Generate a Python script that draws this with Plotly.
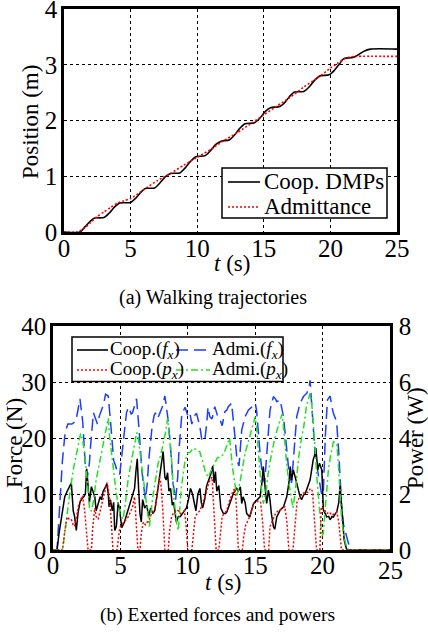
import plotly.graph_objects as go

W, H = 428, 633
SERIF = "Liberation Serif"

# ---------------- (a) walking trajectories ----------------
coop_t = [0, 1.2, 1.6, 2.0, 2.3, 3.0, 3.4, 3.8, 4.2, 5.0, 5.4, 5.8, 6.1, 6.8, 7.2, 7.6,
          8.0, 8.7, 9.1, 9.5, 9.9, 10.6, 11.0, 11.4, 11.8, 12.4, 12.8, 13.2, 13.6, 14.3,
          14.7, 15.1, 15.5, 16.2, 16.6, 17.0, 17.3, 18.0, 18.4, 18.8, 19.2, 19.9, 20.3,
          20.7, 21.0, 21.7, 22.1, 22.5, 23.0, 25.0]
coop_pos = [0, 0.0, 0.1, 0.2, 0.25, 0.26, 0.34, 0.45, 0.52, 0.53, 0.61, 0.72, 0.78, 0.79,
            0.88, 0.99, 1.05, 1.06, 1.15, 1.27, 1.35, 1.37, 1.46, 1.57, 1.63, 1.65, 1.74,
            1.86, 1.94, 1.96, 2.04, 2.16, 2.23, 2.25, 2.33, 2.45, 2.51, 2.52, 2.6, 2.72,
            2.80, 2.82, 2.9, 3.02, 3.11, 3.13, 3.18, 3.24, 3.28, 3.28]

adm_t = [0, 1.0, 1.5, 2.0, 2.5, 3.0, 3.5, 4.0, 4.5, 5.0, 6.0, 7.0, 8.0, 9.0, 10.0, 11.0,
         12.0, 13.0, 14.0, 15.0, 16.0, 17.0, 18.0, 19.0, 20.0, 20.5, 21.0, 21.5, 22.0, 25.0]
adm_pos = [0, 0, 0.06, 0.17, 0.28, 0.36, 0.44, 0.52, 0.56, 0.60, 0.76, 0.92, 1.05, 1.2,
           1.34, 1.48, 1.64, 1.78, 1.94, 2.1, 2.26, 2.42, 2.6, 2.76, 2.94, 3.02, 3.1,
           3.14, 3.15, 3.15]

# ---------------- (b) forces [N] and powers [W] ----------------
coop_force = [(0, 0), (0.3, 0), (0.45, 3), (0.62, 6), (0.87, 9.5), (1.05, 10.5), (1.24, 11.6),
              (1.36, 12), (1.5, 7), (1.6, 6), (1.73, 3.5), (1.85, 6.5), (2.0, 8.5), (2.1, 9),
              (2.28, 9.5), (2.4, 10), (2.5, 14.5), (2.6, 12), (2.7, 8.5), (2.85, 11.3),
              (2.97, 10.5), (3.1, 9.5), (3.2, 7), (3.35, 8.3), (3.5, 9.5), (3.6, 9), (3.72, 10.5),
              (3.84, 11), (4.0, 11.8), (4.1, 10), (4.16, 7.7), (4.26, 9), (4.4, 7), (4.5, 8.5),
              (4.58, 3.5), (4.7, 4.2), (4.83, 8.5), (4.95, 7), (5.1, 4), (5.3, 5), (5.5, 6.5),
              (5.7, 8), (5.9, 9.5), (6.05, 11), (6.15, 14), (6.25, 16.3), (6.35, 11),
              (6.45, 6.5), (6.55, 5), (6.65, 9), (6.8, 7.5), (6.95, 8), (7.1, 6), (7.25, 7.5),
              (7.4, 6.5), (7.55, 7), (7.7, 9.5), (7.85, 12), (7.95, 14), (8.05, 15.5),
              (8.17, 17.6), (8.3, 13), (8.4, 12.5), (8.5, 13.8), (8.6, 10.5), (8.72, 11),
              (8.85, 8), (8.95, 8.5), (9.05, 6.5), (9.15, 5), (9.3, 6), (9.45, 6), (9.6, 6.5),
              (9.75, 7), (9.9, 7.5), (10.05, 9), (10.2, 11), (10.35, 10), (10.5, 8), (10.6, 7),
              (10.75, 10), (10.9, 11), (11.0, 8.5), (11.1, 7.5), (11.25, 9), (11.4, 11.5),
              (11.55, 12.5), (11.7, 13.5), (11.85, 15), (11.95, 12), (12.05, 14), (12.15, 10.5),
              (12.3, 11.5), (12.45, 7.5), (12.64, 6.5), (12.8, 6.5), (12.9, 6.8), (13.13, 8.3),
              (13.38, 10.1), (13.63, 11), (13.75, 10.5), (13.9, 11.3), (14.0, 8.3), (14.1, 9.5),
              (14.25, 8.5), (14.37, 6.5), (14.6, 5.9), (14.87, 8.3), (15.1, 8.9), (15.36, 9.5),
              (15.5, 12), (15.6, 14.9), (15.73, 11.3), (15.85, 8.3), (15.98, 10.7), (16.1, 8.9),
              (16.2, 6.5), (16.35, 4.2), (16.45, 3.7), (16.6, 5.9), (16.85, 7.1), (17.1, 7.7),
              (17.34, 9.5), (17.5, 12), (17.6, 14.9), (17.7, 12.5), (17.83, 14.3), (17.96, 13),
              (18.08, 11.9), (18.2, 10.5), (18.33, 9.5), (18.45, 9), (18.58, 9.8), (18.7, 10),
              (18.8, 10.7), (18.95, 11.5), (19.07, 12.5), (19.2, 14.5), (19.3, 16.1),
              (19.42, 17), (19.5, 18.2), (19.64, 14.3), (19.77, 15.5), (19.94, 14.3),
              (20.06, 7.1), (20.2, 6.5), (20.3, 5.9), (20.45, 6), (20.56, 5.4), (20.7, 6),
              (20.8, 5.9), (20.95, 6.5), (21.05, 6.8), (21.2, 8.5), (21.3, 11.6), (21.4, 8),
              (21.5, 4), (21.6, 1.8), (21.7, 0.8), (21.8, 0), (25, 0)]

adm_force = [(0, 0), (0.3, 0), (0.5, 8), (0.7, 16), (0.9, 21), (1.1, 22.5), (1.4, 22.5),
             (1.7, 23), (1.85, 25), (2.0, 27), (2.2, 23), (2.4, 15), (2.55, 13), (2.7, 15.5),
             (2.8, 19), (3.0, 24.5), (3.15, 23.5), (3.3, 22.5), (3.45, 24), (3.6, 25),
             (3.75, 26), (3.9, 27.8), (4.1, 27.5), (4.3, 22), (4.5, 16), (4.65, 15), (4.75, 14),
             (4.95, 13.5), (5.1, 17), (5.25, 21), (5.45, 24.5), (5.6, 25.5), (5.7, 25),
             (5.8, 24.3), (5.9, 24.5), (6.05, 26), (6.2, 27), (6.4, 21), (6.6, 14), (6.75, 11),
             (6.85, 9), (7.0, 12), (7.1, 16), (7.35, 22), (7.5, 24), (7.6, 24.5), (7.75, 23.5),
             (7.85, 24), (8.0, 25), (8.1, 25.5), (8.3, 27.5), (8.5, 24), (8.7, 19), (8.9, 12),
             (9.1, 9), (9.25, 13), (9.35, 18), (9.55, 24), (9.7, 25), (9.8, 25.5), (10.0, 24),
             (10.15, 24.5), (10.3, 22.5), (10.5, 24), (10.65, 24.4), (10.8, 23), (10.9, 22),
             (11.05, 19.5), (11.26, 19.6), (11.4, 22.5), (11.5, 25.5), (11.63, 23.8),
             (11.8, 23.4), (12.0, 25.6), (12.2, 24), (12.4, 23.2), (12.55, 22.2), (12.75, 24.7),
             (12.9, 25), (13.0, 25.6), (13.25, 26.2), (13.5, 20.2), (13.65, 16), (13.8, 15),
             (14.0, 21.4), (14.25, 23.8), (14.5, 25), (14.74, 25.5), (14.9, 25.8), (15.0, 26.2),
             (15.1, 25), (15.36, 17.3), (15.55, 13), (15.7, 12), (15.85, 17.3), (16.1, 25),
             (16.35, 27.4), (16.5, 27), (16.6, 26.5), (16.85, 26.8), (17.1, 23.8),
             (17.34, 17.9), (17.5, 14), (17.7, 12), (17.83, 16.7), (18.08, 23.8), (18.33, 26.2),
             (18.58, 27.4), (18.83, 28), (19.0, 29), (19.07, 30.3), (19.27, 23.2),
             (19.44, 17.3), (19.7, 13.1), (19.94, 9.8), (20.05, 10), (20.2, 20.2), (20.36, 26.8),
             (20.56, 27.5), (20.7, 25.5), (20.8, 24.4), (20.95, 23.5), (21.05, 22.6),
             (21.2, 17.3), (21.4, 8.3), (21.55, 4.5), (21.7, 3), (21.9, 1.2), (22.05, 0), (25, 0)]

coop_power = [(0, 0), (0.7, 0), (0.85, 0.6), (1.05, 1.18), (1.2, 1.1), (1.35, 1.1), (1.5, 0.9),
              (1.6, 0.84), (1.75, 1.2), (1.9, 1.6), (2.05, 1.8), (2.2, 1.94), (2.35, 1.4),
              (2.5, 0.4), (2.6, 0), (2.85, 0), (2.95, 0.8), (3.1, 1.5), (3.2, 1.2), (3.35, 1.1),
              (3.5, 1.4), (3.65, 1.6), (3.8, 1.9), (3.9, 2.2), (4.0, 2.4), (4.1, 2.2), (4.2, 1.8),
              (4.35, 0.8), (4.45, 0), (4.75, 0), (4.85, 0.5), (4.95, 0.8), (5.1, 0.9), (5.3, 1.0),
              (5.45, 1.1), (5.6, 1.2), (5.75, 1.4), (5.9, 1.54), (6.05, 1.9), (6.15, 1.2),
              (6.3, 0), (6.45, 0), (6.55, 0.6), (6.7, 1.0), (6.85, 0.9), (7.0, 1.0), (7.15, 1.1),
              (7.3, 1.3), (7.5, 1.4), (7.65, 1.7), (7.8, 2.2), (7.9, 2.6), (8.0, 2.4),
              (8.15, 1.4), (8.3, 0), (8.55, 0), (8.65, 0.7), (8.8, 1.2), (9.0, 1.36), (9.15, 1.44),
              (9.3, 1.4), (9.45, 1.3), (9.6, 1.36), (9.75, 1.4), (9.85, 1.0), (10.0, 0), (10.3, 0),
              (10.4, 0.6), (10.55, 1.2), (10.7, 1.3), (10.9, 1.4), (11.05, 1.6), (11.2, 1.8),
              (11.35, 2.0), (11.5, 2.3), (11.65, 2.5), (11.8, 2.6), (11.9, 1.8), (12.05, 0.4),
              (12.1, 0), (12.3, 0), (12.4, 0.6), (12.55, 1.2), (12.7, 1.3), (12.9, 1.42),
              (13.05, 1.7), (13.2, 1.9), (13.35, 2.1), (13.5, 2.2), (13.6, 1.6), (13.75, 0),
              (14.05, 0), (14.15, 0.5), (14.3, 0.9), (14.5, 1.08), (14.7, 1.4), (14.9, 1.66),
              (15.1, 1.72), (15.25, 1.76), (15.4, 1.7), (15.55, 1.0), (15.7, 0), (16.0, 0),
              (16.1, 0.84), (16.3, 1.1), (16.5, 1.3), (16.7, 1.4), (16.85, 1.42), (17.0, 1.5),
              (17.2, 1.54), (17.35, 1.0), (17.5, 0), (17.8, 0), (17.95, 1.0), (18.1, 1.7),
              (18.3, 1.9), (18.5, 2.0), (18.7, 2.08), (18.9, 2.06), (19.1, 2.2), (19.25, 2.1),
              (19.4, 1.0), (19.55, 0), (19.8, 0), (19.9, 1.54), (20.05, 1.5), (20.3, 1.3),
              (20.5, 1.36), (20.7, 1.24), (20.9, 1.3), (21.05, 1.36), (21.2, 1.0), (21.4, 0),
              (25, 0)]

adm_power = [(0, 0), (0.65, 0), (0.74, 0.1), (1.0, 1.18), (1.24, 2.0), (1.5, 2.86), (1.73, 3.46),
             (1.9, 3.9), (2.05, 4.16), (2.2, 3.9), (2.35, 3.46), (2.5, 2.7), (2.6, 2.14),
             (2.72, 1.42), (2.85, 1.4), (2.97, 1.66), (3.2, 2.5), (3.4, 3.0), (3.6, 3.58),
             (3.8, 4.0), (3.96, 4.4), (4.1, 4.7), (4.2, 4.04), (4.45, 2.98), (4.7, 2.0),
             (4.95, 1.3), (5.2, 1.1), (5.35, 1.6), (5.57, 2.5), (5.75, 3.0), (5.94, 3.58),
             (6.1, 3.9), (6.2, 4.2), (6.3, 4.1), (6.56, 3.1), (6.8, 2.14), (7.05, 1.18),
             (7.15, 0.84), (7.4, 1.9), (7.6, 2.5), (7.8, 3.1), (8.0, 3.4), (8.17, 3.8),
             (8.35, 4.2), (8.5, 4.7), (8.65, 4.0), (8.8, 3.2), (8.96, 1.9), (9.2, 0.84),
             (9.3, 0.7), (9.5, 2.14), (9.65, 2.7), (9.8, 3.2), (10.0, 3.46), (10.2, 3.5),
             (10.4, 3.64), (10.65, 3.56), (10.9, 3.5), (11.1, 3.16), (11.3, 2.8), (11.5, 2.6),
             (11.63, 2.74), (11.8, 2.86), (12.0, 3.1), (12.2, 3.3), (12.4, 3.3), (12.6, 3.4),
             (12.8, 3.6), (13.0, 3.9), (13.1, 4.0), (13.3, 3.0), (13.5, 2.3), (13.63, 1.9),
             (13.9, 2.5), (14.1, 3.0), (14.25, 3.46), (14.45, 3.8), (14.6, 4.04), (14.8, 4.4),
             (15.0, 4.76), (15.1, 4.4), (15.2, 3.6), (15.35, 2.8), (15.5, 2.0), (15.6, 1.66),
             (15.8, 2.1), (16.0, 2.86), (16.2, 3.4), (16.35, 3.8), (16.5, 4.1), (16.7, 4.4),
             (16.85, 4.6), (17.0, 4.86), (17.1, 4.4), (17.2, 3.68), (17.35, 3.0), (17.5, 2.38),
             (17.7, 1.66), (17.8, 1.5), (17.95, 2.0), (18.08, 2.74), (18.25, 3.4), (18.45, 4.04),
             (18.6, 4.4), (18.8, 5.12), (18.95, 5.4), (19.07, 5.6), (19.2, 5.2), (19.3, 4.64),
             (19.45, 3.6), (19.57, 2.62), (19.7, 1.8), (19.8, 1.18), (19.94, 0.48), (20.05, 0.6),
             (20.2, 1.42), (20.3, 2.1), (20.43, 2.86), (20.6, 3.4), (20.8, 3.86), (20.95, 3.84),
             (21.05, 3.8), (21.15, 3.2), (21.25, 2.5), (21.4, 1.18), (21.55, 0.6), (21.7, 0.24),
             (21.9, 0), (25, 0)]

names_a = ["Coop. DMPs", "Admittance"]
names_b = ["Coop.(<i>f<sub>x</sub></i>)", "Admi.(<i>f<sub>x</sub></i>)",
           "Coop.(<i>p<sub>x</sub></i>)", "Admi.(<i>p<sub>x</sub></i>)"]

BLACK, RED, BLUE, GREEN = "#000000", "#ff0000", "#1f3dff", "#22e022"
DOT, LONG, DASHDOT = "2px,2px", "12px,6px", "7px,3px,2px,3px"
TICK_SIZE = 25


def px(x):
    return x / W


def py(y):
    return 1 - y / H


def split(pairs):
    return [p[0] for p in pairs], [p[1] for p in pairs]


fig = go.Figure()

fig.add_trace(go.Scatter(x=coop_t, y=coop_pos, mode="lines", xaxis="x", yaxis="y",
                         line=dict(color=BLACK, width=1.6, shape="spline", smoothing=0.7),
                         showlegend=False))
fig.add_trace(go.Scatter(x=adm_t, y=adm_pos, mode="lines", xaxis="x", yaxis="y",
                         line=dict(color=RED, width=1.6, dash=DOT, shape="spline", smoothing=0.6),
                         showlegend=False))

for pairs, color, dash, yax in [(adm_force, BLUE, LONG, "y3"),
                                (adm_power, GREEN, DASHDOT, "y4"),
                                (coop_power, RED, DOT, "y4"),
                                (coop_force, BLACK, "solid", "y3")]:
    tx, vy = split(pairs)
    fig.add_trace(go.Scatter(x=tx, y=vy, mode="lines", xaxis="x2", yaxis=yax,
                             line=dict(color=color, width=1.5, dash=dash),
                             showlegend=False))

axis_common = dict(showline=True, linecolor="black", linewidth=2.6, mirror=True,
                   showgrid=True, gridcolor="black", griddash="dot", gridwidth=1,
                   ticks="", zeroline=False, automargin=False, ticklabeloverflow="allow",
                   tickfont=dict(family=SERIF, size=TICK_SIZE, color="black"))

fig.update_layout(
    width=W, height=H,
    margin=dict(l=0, r=0, t=0, b=0, autoexpand=False),
    paper_bgcolor="white", plot_bgcolor="white",
    font=dict(family=SERIF, color="black"),
    showlegend=False,
    xaxis=dict(domain=[px(64), px(397)], range=[0, 25], tickvals=[0, 5, 10, 15, 20, 25],
               anchor="y", ticklabelstandoff=-8, **axis_common),
    yaxis=dict(domain=[py(232), py(9)], range=[0, 4], tickvals=[0, 1, 2, 3, 4],
               anchor="x", ticklabelstandoff=-1, **axis_common),
    xaxis2=dict(domain=[px(53), px(390)], range=[0, 25], tickvals=[0, 5, 10, 15, 20],
                anchor="y3", ticklabelstandoff=-9, **axis_common),
    yaxis3=dict(domain=[py(550), py(326)], range=[0, 40], tickvals=[0, 10, 20, 30, 40],
                anchor="x2", ticklabelstandoff=-1, **axis_common),
    yaxis4=dict(range=[0, 8], tickvals=[0, 2, 4, 6, 8], overlaying="y3", side="right",
                anchor="x2", showline=True, linecolor="black", linewidth=2.6, showgrid=False,
                ticks="", zeroline=False, automargin=False, ticklabelstandoff=1,
                ticklabeloverflow="allow",
                tickfont=dict(family=SERIF, size=TICK_SIZE, color="black")),
)

ann = []


def text(x, y, s, size=23, angle=0, xanchor="center", xref="paper"):
    ann.append(dict(x=x, y=y, xref=xref, yref="paper", text=s, showarrow=False,
                    xanchor=xanchor, yanchor="middle", textangle=angle,
                    font=dict(family=SERIF, size=size, color="black")))


# axis titles and captions
text(px(232), py(263), "<i>t</i> (s)")
text(px(30), py(122), "Position (m)", angle=-90)
text(px(213), py(297), "(a) Walking trajectories", size=20)
text(px(223), py(582), "<i>t</i> (s)")
text(px(14), py(443), "Force (N)", angle=-90)
text(px(415), py(438), "Power (W)", angle=-90)
text(px(217), py(615), "(b) Exerted forces and powers", size=19.5)
text(25, py(570), "25", size=TICK_SIZE, xref="x2")

shapes = []


def key(x0, x1, y, color, dash):
    shapes.append(dict(type="line", xref="paper", yref="paper", layer="above",
                       x0=px(x0), x1=px(x1), y0=py(y), y1=py(y),
                       line=dict(color=color, width=1.6, dash=dash)))


# legend of (a)
shapes.append(dict(type="rect", xref="paper", yref="paper", layer="above",
                   x0=px(222), x1=px(387), y0=py(218), y1=py(168),
                   fillcolor="white", line=dict(color="black", width=1.5)))
for (name, color, dash), yrow in zip([(names_a[0], BLACK, "solid"), (names_a[1], RED, DOT)],
                                     [182, 207]):
    key(228, 260, yrow, color, dash)
    text(px(262), py(yrow), name, xanchor="left")

# legend of (b)
shapes.append(dict(type="rect", xref="paper", yref="paper", layer="above",
                   x0=px(72), x1=px(283), y0=py(381.5), y1=py(337),
                   fillcolor="white", line=dict(color="black", width=1.5)))
entries_b = [(names_b[0], BLACK, "solid", 77, 108, 350),
             (names_b[1], BLUE, LONG, 176, 210, 350),
             (names_b[2], RED, DOT, 77, 108, 370),
             (names_b[3], GREEN, DASHDOT, 176, 210, 370)]
for name, color, dash, x0, x1, yrow in entries_b:
    key(x0, x1, yrow, color, dash)
    text(px(x1), py(yrow), name, size=19, xanchor="left")

fig.update_layout(annotations=ann, shapes=shapes)
fig.write_html("out.html")
